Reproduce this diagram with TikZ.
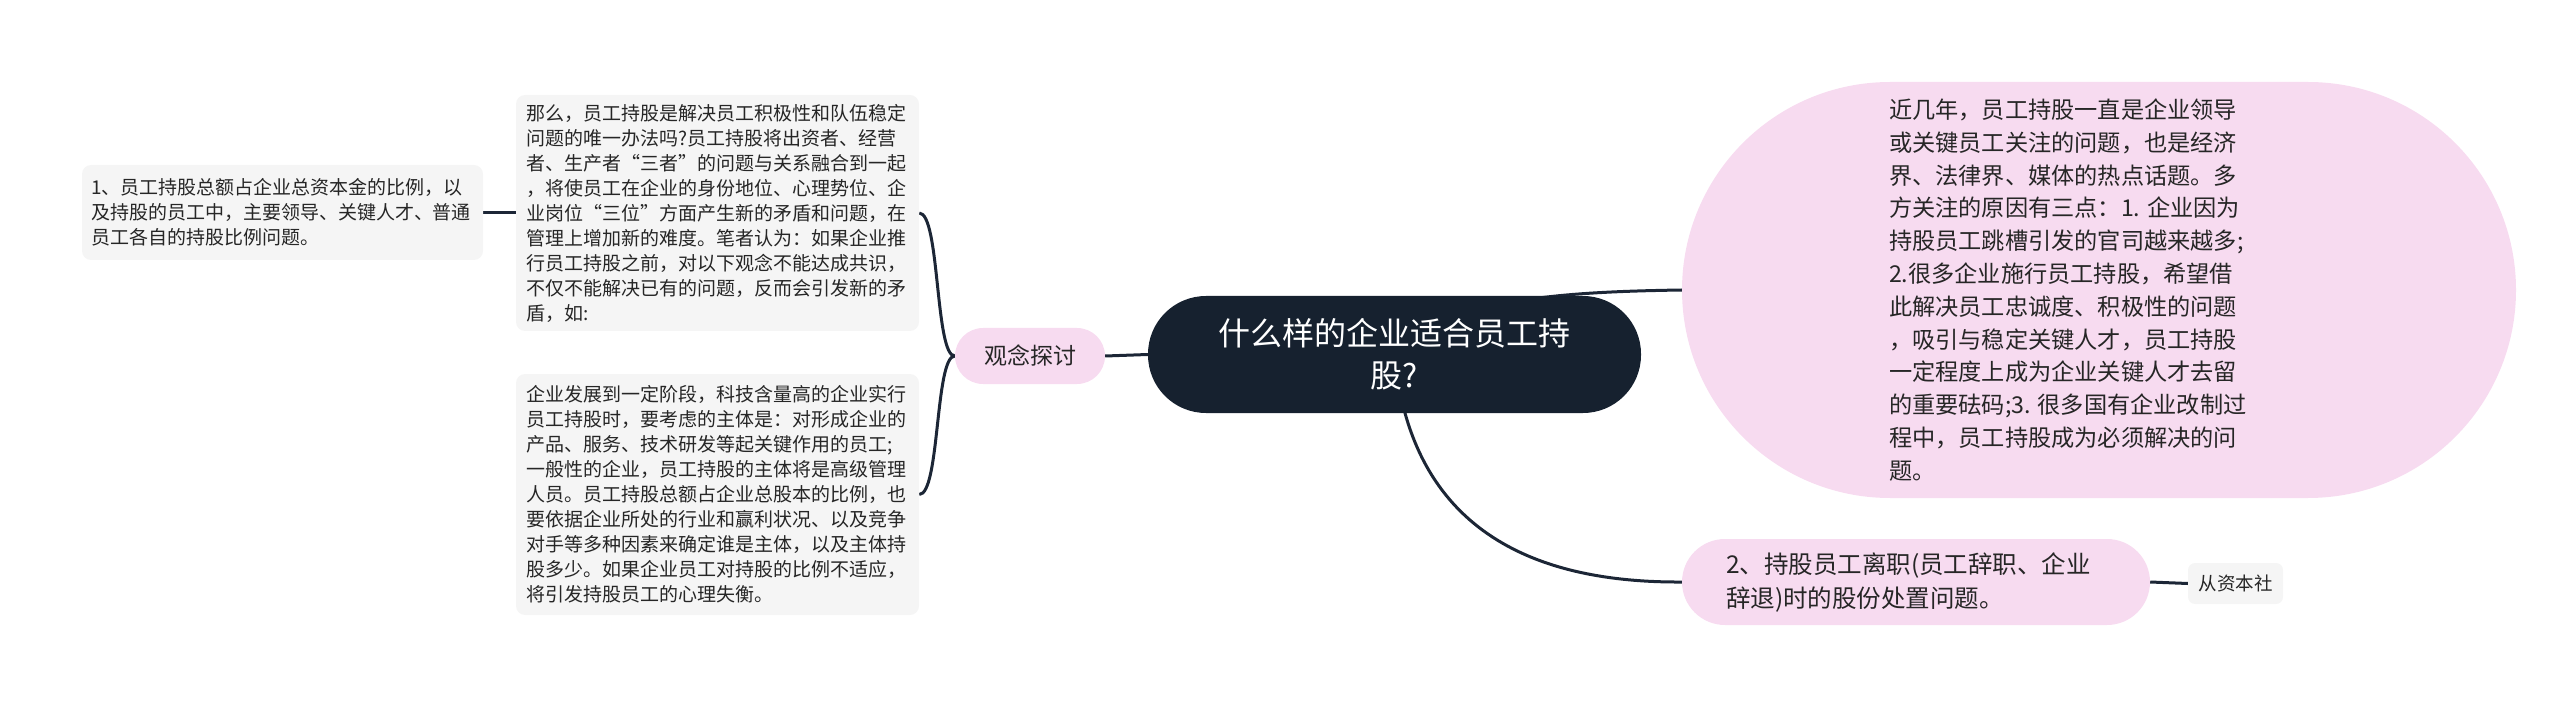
\documentclass[tikz,border=0pt]{standalone}
\usepackage{fontspec}
\newfontfamily\cjk{Noto Sans CJK SC}
\usetikzlibrary{backgrounds}
\definecolor{darkc}{HTML}{16212F}
\definecolor{pinkc}{HTML}{F7DBF0}
\definecolor{grayc}{HTML}{F5F5F5}
\definecolor{linec}{HTML}{1C2636}
\tikzset{
  conn/.style={draw=linec, line width=3pt},
  graybox/.style={fill=grayc, rounded corners=9pt, inner sep=0pt, align=left,
    font=\cjk\fontsize{19}{25}\selectfont, text=black!85},
  pinkbox/.style={fill=pinkc, inner sep=0pt, font=\cjk, text=black!85},
}
\begin{document}
\begin{tikzpicture}[x=1pt,y=-1pt]
\useasboundingbox (0,0) rectangle (2560,711);
% central
\node (center) [fill=darkc, rounded corners=58pt, minimum width=493pt, minimum height=117pt,
  inner sep=0pt, align=center, text=white, font=\cjk\fontsize{32}{42}\selectfont]
  at (1394.5,354.5) {什么样的企业适合员工持\\股?};
% left branch
\node (guan) [pinkbox, rounded corners=28pt, minimum width=150pt, minimum height=56pt,
  font=\cjk\fontsize{23}{28}\selectfont] at (1030,356) {观念探讨};
\node (boxA) [graybox, minimum width=403pt, minimum height=236pt, text width=383pt]
  at (717.5,213) {那么，员工持股是解决员工积极性和队伍稳定\\
问题的唯一办法吗?员工持股将出资者、经营\\
者、生产者“三者”的问题与关系融合到一起\\
，将使员工在企业的身份地位、心理势位、企\\
业岗位“三位”方面产生新的矛盾和问题，在\\
管理上增加新的难度。笔者认为：如果企业推\\
行员工持股之前，对以下观念不能达成共识，\\
不仅不能解决已有的问题，反而会引发新的矛\\
盾，如:};
\node (boxB) [graybox, minimum width=403pt, minimum height=241pt, text width=383pt]
  at (717.5,494.5) {企业发展到一定阶段，科技含量高的企业实行\\
员工持股时，要考虑的主体是：对形成企业的\\
产品、服务、技术研发等起关键作用的员工;\\
一般性的企业，员工持股的主体将是高级管理\\
人员。员工持股总额占企业总股本的比例，也\\
要依据企业所处的行业和赢利状况、以及竞争\\
对手等多种因素来确定谁是主体，以及主体持\\
股多少。如果企业员工对持股的比例不适应，\\
将引发持股员工的心理失衡。};
\node (boxC) [graybox, minimum width=401pt, minimum height=95pt, text width=383pt]
  at (282.5,212.5) {1、员工持股总额占企业总资本金的比例，以\\
及持股的员工中，主要领导、关键人才、普通\\
员工各自的持股比例问题。};
% right branch
\node (big) [pinkbox, rounded corners=208pt, minimum width=834pt, minimum height=416pt]
  at (2099,290) {\parbox{360pt}{\raggedright\fontsize{23.2}{32.8}\selectfont
近几年，员工持股一直是企业领导\\
或关键员工关注的问题，也是经济\\
界、法律界、媒体的热点话题。多\\
方关注的原因有三点：1. 企业因为\\
持股员工跳槽引发的官司越来越多;\\
2.很多企业施行员工持股，希望借\\
此解决员工忠诚度、积极性的问题\\
，吸引与稳定关键人才，员工持股\\
一定程度上成为企业关键人才去留\\
的重要砝码;3. 很多国有企业改制过\\
程中，员工持股成为必须解决的问\\
题。}\rule{60pt}{0pt}};
\node (two) [pinkbox, rounded corners=43pt, minimum width=468pt, minimum height=86pt,
  font=\cjk\fontsize{24.5}{34}\selectfont] at (1916,582)
  {\parbox{372pt}{\raggedright 2、持股员工离职(员工辞职、企业\\辞退)时的股份处置问题。}\rule{8pt}{0pt}};
\node (cz) [graybox, rounded corners=7pt, minimum width=95pt, minimum height=41pt,
  align=center, font=\cjk\fontsize{18.5}{22}\selectfont] at (2235.5,583.5) {从资本社};
% connectors
\begin{scope}[on background layer]
\draw[conn] (center.center) .. controls (1450,300) and (1550,292) .. (big.west);
\draw[conn] (center.center) .. controls (1410,520) and (1520,583) .. (two.west);
\draw[conn] (center.west) -- (guan.east);
\draw[conn] (guan.west) .. controls (935,356) and (940,213) .. (boxA.east);
\draw[conn] (guan.west) .. controls (935,356) and (940,494.5) .. (boxB.east);
\draw[conn] (boxC.east) -- (boxA.west |- boxC.east);
\draw[conn] (two.east) -- (cz.west);
\end{scope}
\end{tikzpicture}
\end{document}
